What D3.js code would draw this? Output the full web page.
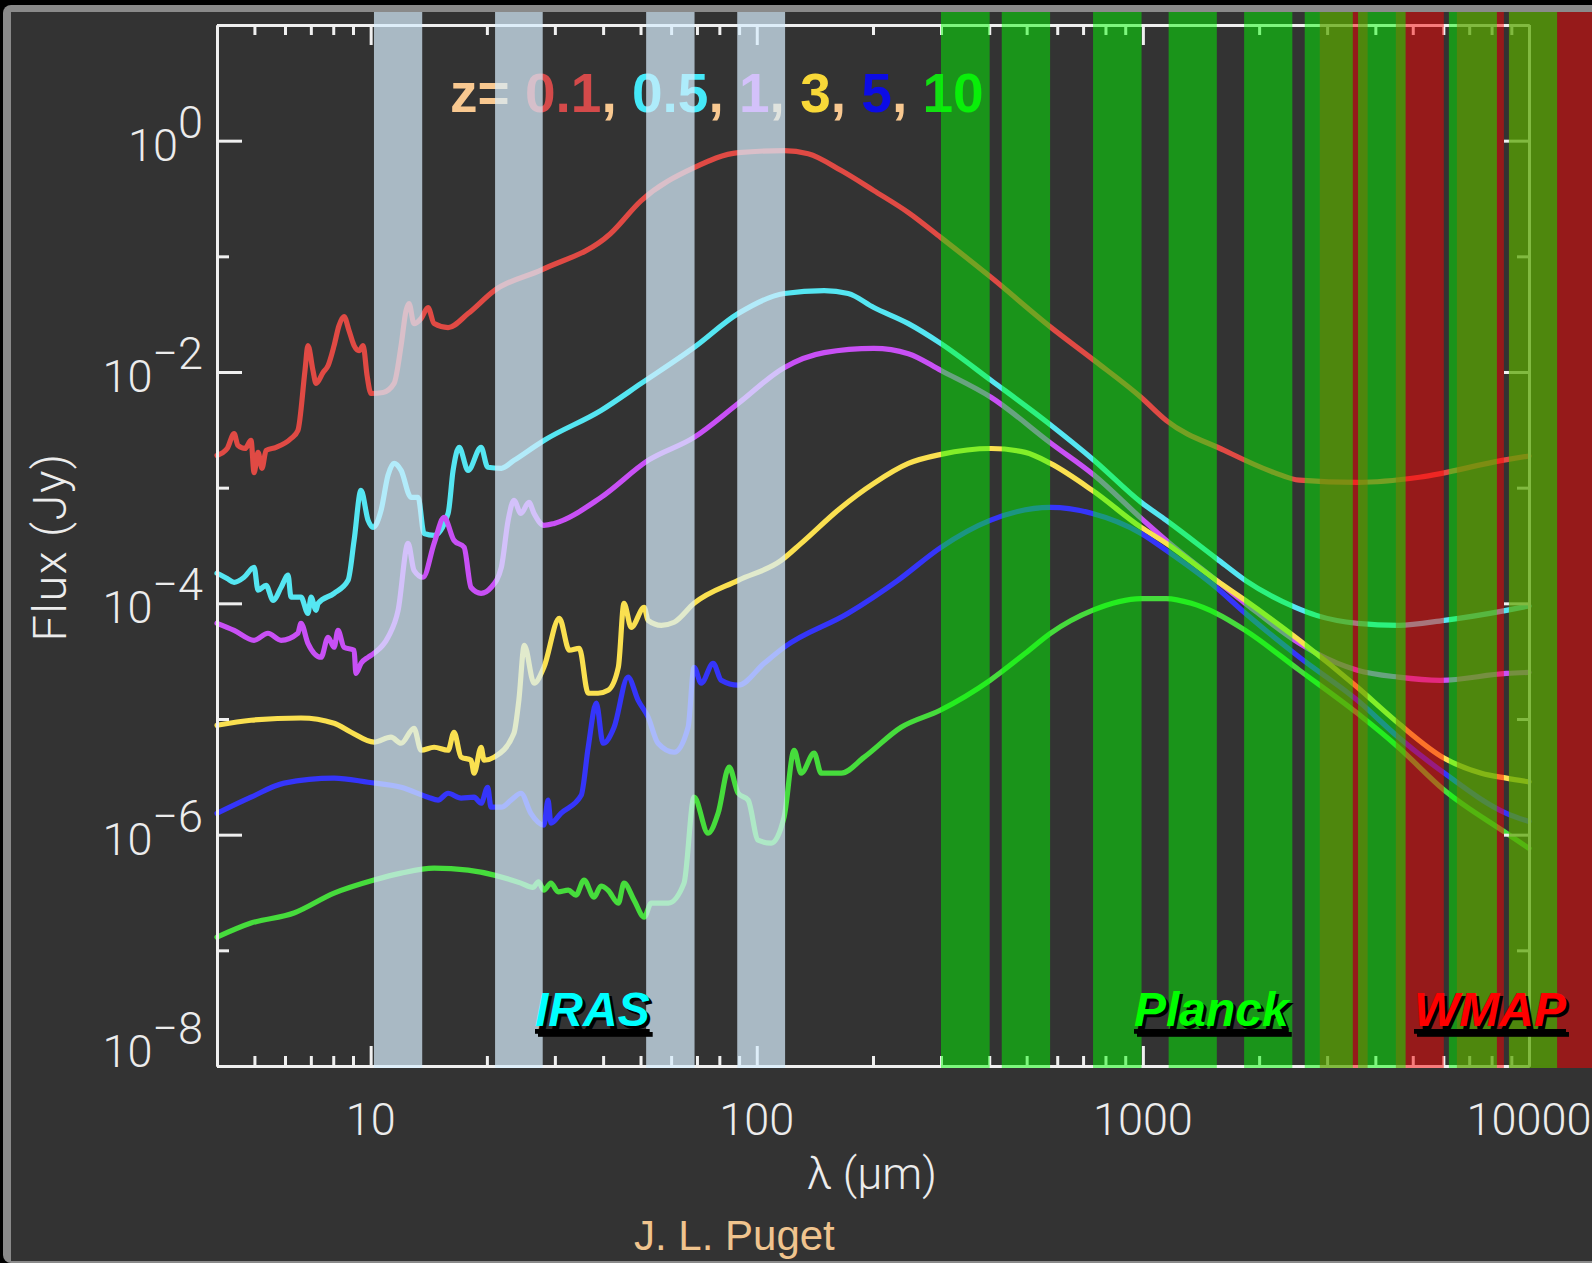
<!DOCTYPE html>
<html>
<head>
<meta charset="utf-8">
<script src="https://cdn.jsdelivr.net/npm/d3@7"></script>
<style>
  html, body { margin: 0; padding: 0; background: #000; }
  svg { display: block; }
</style>
</head>
<body>
<svg id="chart" width="1592" height="1263"></svg>
<script>
// ---- Model SEDs of a star-forming galaxy seen at several redshifts: [wavelength (um), flux (Jy)] ----
const redshifts = ["0.1", "0.5", "1", "3", "5", "10"];

const sedZ0_1 = [[4.0,1.90e-3],[4.25,2.18e-3],[4.43,2.94e-3],[4.53,2.32e-3],[4.73,2.18e-3],[4.90,2.56e-3],[4.99,1.35e-3],[5.11,2.02e-3],[5.23,1.47e-3],[5.36,2.10e-3],[5.69,2.23e-3],[6.22,2.66e-3],[6.48,3.12e-3],[6.76,1.03e-2],[6.88,1.69e-2],[7.09,1.03e-2],[7.22,7.96e-3],[7.53,9.9e-3],[7.76,1.14e-2],[8.04,1.69e-2],[8.28,2.52e-2],[8.53,3.02e-2],[8.79,2.28e-2],[9.06,1.69e-2],[9.33,1.53e-2],[9.56,1.69e-2],[9.79,9.3e-3],[10.02,6.52e-3],[10.77,6.65e-3],[11.50,7.96e-3],[11.99,1.69e-2],[12.35,3.40e-2],[12.57,3.91e-2],[12.95,2.62e-2],[13.51,2.90e-2],[14.08,3.61e-2],[14.60,2.62e-2],[15.87,2.42e-2],[17.88,3.20e-2],[20.9,5.06e-2],[27.8,7.68e-2],[41.7,0.156],[50.2,0.303],[68.8,0.584],[89.5,0.788],[117.7,0.820],[135.9,0.772],[165.5,0.551],[201,0.370],[247,0.239],[300,0.145],[405,6.55e-2],[579,2.42e-2],[748,1.26e-2],[990,6.02e-3],[1150,3.81e-3],[1625,2.10e-3],[2189,1.35e-3],[2543,1.16e-3],[3594,1.11e-3],[5200,1.23e-3],[8532,1.72e-3],[10000,1.88e-3]];

const sedZ0_5 = [[4.0,1.82e-4],[4.25,1.64e-4],[4.43,1.52e-4],[4.70,1.68e-4],[4.99,2.05e-4],[5.11,1.30e-4],[5.36,1.43e-4],[5.59,1.06e-4],[5.86,1.37e-4],[6.11,1.75e-4],[6.22,1.13e-4],[6.60,1.13e-4],[6.88,8.2e-5],[7.01,1.13e-4],[7.22,8.7e-5],[7.31,1.0e-4],[8.04,1.22e-4],[8.74,1.58e-4],[9.06,3.50e-4],[9.44,9.46e-4],[9.85,5.21e-4],[10.15,4.53e-4],[10.64,6.36e-4],[11.09,1.28e-3],[11.50,1.62e-3],[11.99,1.41e-3],[12.72,8.24e-4],[13.27,8.24e-4],[13.75,4.02e-4],[14.60,3.87e-4],[15.87,5.99e-4],[16.35,1.41e-3],[16.95,2.23e-3],[17.88,1.41e-3],[19.32,2.23e-3],[20.1,1.50e-3],[21.8,1.47e-3],[23.5,1.72e-3],[28.1,2.56e-3],[39.5,4.65e-3],[50.2,7.96e-3],[68.8,1.63e-2],[89.5,3.20e-2],[117.7,4.77e-2],[149.5,5.06e-2],[172.5,4.77e-2],[201,3.61e-2],[247,2.62e-2],[300,1.76e-2],[405,8.44e-3],[579,3.45e-3],[748,1.72e-3],[990,7.46e-4],[1150,5.21e-4],[1549,2.45e-4],[1842,1.58e-4],[2482,9.23e-5],[2814,7.87e-5],[3594,6.72e-5],[4588,6.46e-5],[6036,7.13e-5],[8740,8.70e-5],[10000,9.5e-5]];

const sedZ1 = [[4.0,6.72e-5],[4.43,5.84e-5],[4.99,4.79e-5],[5.42,5.51e-5],[5.86,4.79e-5],[6.48,5.51e-5],[6.60,6.72e-5],[6.88,4.51e-5],[7.44,3.42e-5],[7.76,5.09e-5],[8.04,4.17e-5],[8.23,5.84e-5],[8.53,4.17e-5],[9.06,3.93e-5],[9.16,2.48e-5],[9.44,3.03e-5],[9.85,3.42e-5],[10.20,3.70e-5],[11.09,5.09e-5],[11.78,8.70e-5],[12.50,3.30e-4],[12.95,1.93e-4],[13.67,1.68e-4],[14.60,3.30e-4],[15.49,5.53e-4],[16.44,3.50e-4],[17.46,3.05e-4],[18.20,1.37e-4],[19.32,1.22e-4],[20.5,1.37e-4],[21.8,2.05e-4],[22.7,5.21e-4],[23.5,7.76e-4],[24.5,5.99e-4],[25.7,7.46e-4],[26.5,5.99e-4],[28.1,4.72e-4],[29.9,4.91e-4],[39.5,8.24e-4],[52.3,1.72e-3],[68.8,2.72e-3],[89.5,5.34e-3],[117.7,1.09e-2],[149.5,1.47e-2],[201,1.60e-2],[247,1.44e-2],[300,1.03e-2],[405,6.02e-3],[579,2.41e-3],[748,1.28e-3],[990,5.43e-4],[1150,3.50e-4],[1549,1.58e-4],[1842,1.0e-4],[2543,4.51e-5],[2814,3.70e-5],[3594,2.64e-5],[4588,2.30e-5],[5896,2.16e-5],[8740,2.48e-5],[10000,2.53e-5]];

const sedZ3 = [[4.0,8.83e-6],[4.90,9.76e-6],[6.60,1.02e-5],[8.04,9.19e-6],[8.90,7.68e-6],[10.20,6.30e-6],[11.29,6.96e-6],[11.99,6.17e-6],[12.95,8.32e-6],[13.51,5.37e-6],[14.60,5.70e-6],[15.87,5.37e-6],[16.44,7.68e-6],[17.15,4.68e-6],[18.20,4.40e-6],[18.53,3.40e-6],[19.32,5.70e-6],[19.67,4.40e-6],[20.9,4.68e-6],[23.5,7.53e-6],[24.2,1.45e-5],[25.0,4.34e-5],[26.5,2.04e-5],[28.1,2.80e-5],[30.8,7.42e-5],[32.7,3.93e-5],[34.7,4.08e-5],[36.6,1.67e-5],[38.8,1.67e-5],[41.2,1.77e-5],[43.8,2.80e-5],[45.3,1.0e-4],[47.3,6.20e-5],[51.1,9.23e-5],[52.3,7.13e-5],[56.6,6.46e-5],[61.1,6.86e-5],[68.8,1.0e-4],[89.5,1.58e-4],[115.7,2.35e-4],[130.3,3.30e-4],[165.5,6.75e-4],[201,1.09e-3],[247,1.62e-3],[300,1.94e-3],[405,2.18e-3],[496,2.02e-3],[576,1.62e-3],[740,9.46e-4],[990,4.53e-4],[1150,3.30e-4],[1549,1.58e-4],[1842,1.06e-4],[2543,4.79e-5],[3594,1.88e-5],[4588,9.19e-6],[6036,4.58e-6],[7530,3.40e-6],[8740,3.08e-6],[10000,2.86e-6]];

const sedZ5 = [[4.0,1.53e-6],[4.90,2.11e-6],[5.97,2.79e-6],[8.04,3.08e-6],[9.85,2.84e-6],[11.99,2.57e-6],[14.08,2.11e-6],[14.95,1.99e-6],[15.87,2.28e-6],[17.15,2.07e-6],[18.53,2.11e-6],[19.32,1.87e-6],[20.1,2.57e-6],[20.5,1.73e-6],[21.8,1.73e-6],[23.1,1.99e-6],[24.5,2.28e-6],[26.0,1.53e-6],[28.1,1.21e-6],[28.8,1.99e-6],[29.3,1.26e-6],[31.1,1.53e-6],[35.1,2.19e-6],[36.6,5.70e-6],[38.4,1.37e-5],[40.0,6.17e-6],[42.7,8.49e-6],[46.4,2.30e-5],[49.3,1.45e-5],[52.3,1.04e-5],[55.5,6.17e-6],[61.1,5.16e-6],[66.4,8.49e-6],[68.8,2.80e-5],[71.8,2.04e-5],[77.1,3.03e-5],[80.9,2.16e-5],[89.5,1.96e-5],[104.5,3.03e-5],[117.7,4.17e-5],[172.5,8.20e-5],[232,1.58e-4],[300,3.05e-4],[402,5.21e-4],[576,6.75e-4],[740,5.99e-4],[990,4.02e-4],[1150,2.87e-4],[1549,1.37e-4],[1842,8.20e-5],[2543,3.42e-5],[3594,1.45e-5],[4588,6.96e-6],[6036,3.40e-6],[8740,1.53e-6],[10000,1.30e-6]];

const sedZ10 = [[4.0,1.30e-7],[4.90,1.72e-7],[6.33,2.10e-7],[8.04,3.12e-7],[10.20,4.05e-7],[11.99,4.65e-7],[14.60,5.14e-7],[17.88,4.93e-7],[20.9,4.47e-7],[24.5,3.81e-7],[26.3,3.50e-7],[27.2,3.90e-7],[28.1,3.31e-7],[29.3,3.81e-7],[30.6,3.20e-7],[32.5,3.31e-7],[34.0,3.00e-7],[35.7,4.05e-7],[37.9,2.88e-7],[39.5,3.60e-7],[41.2,3.31e-7],[43.8,2.56e-7],[45.3,3.81e-7],[48.1,2.72e-7],[51.1,1.94e-7],[53.3,2.56e-7],[59.0,2.56e-7],[64.8,3.81e-7],[68.8,2.11e-6],[74.8,1.03e-6],[79.4,1.53e-6],[84.8,3.83e-6],[89.5,2.28e-6],[95.0,1.99e-6],[100.8,8.96e-7],[109.0,8.45e-7],[117.7,1.42e-6],[125.0,5.37e-6],[130.3,3.40e-6],[140.8,5.06e-6],[146.8,3.40e-6],[165.5,3.40e-6],[189.8,4.68e-6],[236.6,8.49e-6],[298.6,1.19e-5],[402,2.16e-5],[496,3.70e-5],[576,5.51e-5],[740,8.70e-5],[990,1.10e-4],[1150,1.10e-4],[1335,1.0e-4],[1549,8.20e-5],[1842,5.84e-5],[2543,2.64e-5],[3594,1.12e-5],[4588,5.70e-6],[6036,2.42e-6],[8740,1.03e-6],[10000,7.6e-7]];

const seds = [sedZ0_1, sedZ0_5, sedZ1, sedZ3, sedZ5, sedZ10];

// ---- Instrument pass-bands, [from, to] in um ----
const irasBands   = [[10.2, 13.6], [21.0, 27.9], [51.7, 69.0], [89.0, 118.4]];
const planckBands = [[300, 401], [431, 575], [743, 992], [1166, 1554], [1829, 2438],
                     [2625, 3497], [3608, 4791], [6201, 8257], [8872, 11825]];
const wmapBands   = [[2872, 3820], [4520, 6017], [6504, 8609], [8872, 11825], [11825, 15681]];

// ---- Axis ticks ----
const xMajorTicks = [10, 100, 1000, 10000];
const xMinorTicks = [5,6,7,8,9, 20,30,40,50,60,70,80,90, 200,300,400,500,600,700,800,900,
                     2000,3000,4000,5000,6000,7000,8000,9000];
const yLabelExponents = [0, -2, -4, -6, -8];
const yMinorExponents = [1, -1, -3, -5, -7];

// ---- Styles ----
const lineColors   = ["#e04a44", "#55e6f2", "#c850f5", "#fae050", "#3535fa", "#46dc3c"];
const legendColors = ["#d44a4a", "#45e8f8", "#c850f5", "#f8d838", "#0c0ce6", "#12e012"];
const peach = "#f8c890";
const axisColor = "#f0f0f0";
const tickFont = "Roboto, 'Liberation Sans', Arial, sans-serif";
const boldFont = "'Liberation Sans', Arial, Helvetica, sans-serif";

const W = 1592, H = 1263;
const svg = d3.select("#chart");

// window frame
svg.append("rect").attr("width", W).attr("height", H).attr("fill", "#000");
svg.append("rect").attr("x", 3).attr("y", 5).attr("width", W + 20).attr("height", H - 5)
   .attr("rx", 8).attr("fill", "#8a8a8a");
svg.append("rect").attr("x", 11).attr("y", 12).attr("width", W - 11).attr("height", H - 14)
   .attr("fill", "#333333");

// scales
const x = d3.scaleLog().domain([4, 10000]).range([217, 1529]);
const y = d3.scaleLog().domain([1e-8, 10]).range([1066, 25]);
const [x0, x1] = x.range();
const [yB, yT] = y.range();

// redshift legend (sits under the band overlays)
const legend = svg.append("text")
  .attr("x", 450).attr("y", 112)
  .attr("font-family", boldFont).attr("font-weight", "bold").attr("font-size", 55);
legend.append("tspan").attr("fill", peach).text("z= ");
redshifts.forEach((z, i) => {
  legend.append("tspan").attr("fill", legendColors[i]).text(z);
  if (i < redshifts.length - 1) legend.append("tspan").attr("fill", peach).text(", ");
});

// SED curves
const line = d3.line()
  .x(d => x(d[0]))
  .y(d => y(d[1]))
  .curve(d3.curveMonotoneX);

svg.append("g").selectAll("path").data(seds).join("path")
  .attr("d", line)
  .attr("fill", "none")
  .attr("stroke", (d, i) => lineColors[i])
  .attr("stroke-width", 5.2)
  .attr("stroke-linejoin", "round")
  .attr("stroke-linecap", "round");

// axes on all four sides, ticks pointing inward
function styleAxis(g) {
  g.select(".domain").attr("stroke", axisColor).attr("stroke-width", 3);
  g.selectAll(".tick line").attr("stroke", axisColor).attr("stroke-width", 3);
  g.selectAll(".tick text").remove();
}
const axes = svg.append("g");
const addX = (ctor, ty, values, len) =>
  axes.append("g").attr("transform", `translate(0,${ty})`)
    .call(ctor(x).tickValues(values).tickSize(-len).tickSizeOuter(0).tickFormat(""))
    .call(styleAxis);
addX(d3.axisBottom, yB, xMinorTicks, 10);
addX(d3.axisBottom, yB, xMajorTicks, 20);
addX(d3.axisTop, yT, xMinorTicks, 10);
addX(d3.axisTop, yT, xMajorTicks, 20);

const addY = (ctor, tx, exps, len) =>
  axes.append("g").attr("transform", `translate(${tx},0)`)
    .call(ctor(y).tickValues(exps.map(e => Math.pow(10, e))).tickSize(-len).tickSizeOuter(0).tickFormat(""))
    .call(styleAxis);
addY(d3.axisLeft, x0, yMinorExponents, 12);
addY(d3.axisLeft, x0, yLabelExponents, 25);
addY(d3.axisRight, x1, yMinorExponents, 12);
addY(d3.axisRight, x1, yLabelExponents, 25);

// instrument band overlays
const bandTop = 12, bandBottom = 1068;
function drawBands(bands, color, opacity) {
  svg.append("g").selectAll("rect").data(bands).join("rect")
    .attr("x", d => x(d[0]))
    .attr("width", d => x(d[1]) - x(d[0]))
    .attr("y", bandTop)
    .attr("height", bandBottom - bandTop)
    .attr("fill", color)
    .attr("fill-opacity", opacity);
}
drawBands(wmapBands, "rgb(255,0,0)", 0.485);
drawBands(planckBands, "rgb(0,255,0)", 0.48);
drawBands(irasBands, "rgb(215,237,252)", 0.72);

// tick labels
const labels = svg.append("g")
  .attr("font-family", tickFont).attr("font-weight", 300)
  .attr("fill", "#ececec").attr("font-size", 45);

labels.selectAll("text.xl").data(xMajorTicks).join("text")
  .attr("class", "xl")
  .attr("x", d => x(d)).attr("y", 1135)
  .attr("text-anchor", "middle")
  .text(d3.format("d"));

// the lowest label is lifted to sit above the bottom axis
yLabelExponents.forEach((e, i) => {
  const lift = (i === yLabelExponents.length - 1) ? 1 : 20;
  const t = labels.append("text")
    .attr("x", 203).attr("y", y(Math.pow(10, e)) + lift)
    .attr("text-anchor", "end");
  t.append("tspan").text("10");
  t.append("tspan").attr("dy", -23).text(e < 0 ? "\u2212" + (-e) : String(e));
});

// axis titles
labels.append("text")
  .attr("x", 872).attr("y", 1189)
  .attr("text-anchor", "middle")
  .text("\u03bb (\u03bcm)");
labels.append("text")
  .attr("transform", "translate(66,547) rotate(-90)")
  .attr("text-anchor", "middle")
  .attr("font-size", 47)
  .attr("letter-spacing", 1.5)
  .text("Flux (Jy)");

// credit
svg.append("text")
  .attr("x", 634).attr("y", 1250)
  .attr("font-family", boldFont).attr("font-size", 42)
  .attr("fill", "#f0c48e")
  .text("J. L. Puget");

// instrument names, with a drop shadow
const instruments = [
  { name: "IRAS",   x: 535,  color: "#00ffff" },
  { name: "Planck", x: 1134, color: "#00ff00" },
  { name: "WMAP",   x: 1414, color: "#ff0000" }
];
const inst = svg.append("g")
  .attr("font-family", boldFont).attr("font-weight", "bold")
  .attr("font-style", "italic").attr("font-size", 48)
  .attr("text-decoration", "underline");
inst.selectAll("text.shadow").data(instruments).join("text")
  .attr("class", "shadow")
  .attr("x", d => d.x + 3).attr("y", 1029)
  .attr("fill", "#000")
  .text(d => d.name);
inst.selectAll("text.name").data(instruments).join("text")
  .attr("class", "name")
  .attr("x", d => d.x).attr("y", 1026)
  .attr("fill", d => d.color)
  .text(d => d.name);
</script>
</body>
</html>
